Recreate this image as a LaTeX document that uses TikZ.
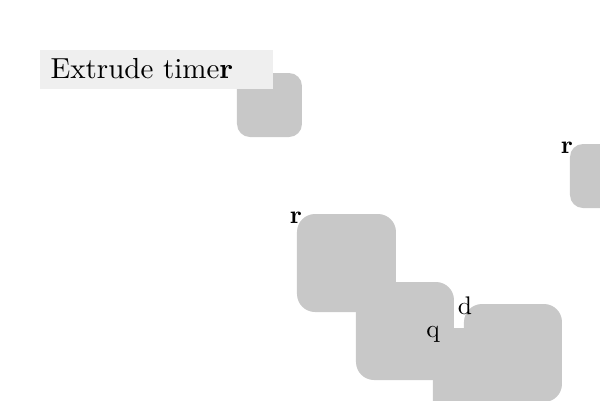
\documentclass[tikz,border=0pt]{standalone}
\usepackage{tikz}
\definecolor{blobgray}{HTML}{C8C8C8}
\definecolor{titlegray}{HTML}{EFEFEF}

\begin{document}
\begin{tikzpicture}[x=0.02cm, y=-0.02cm,
    blob/.style={fill=blobgray, rounded corners=#1},
    blob/.default=3.6mm,
    lbl/.style={font=\fontsize{10}{12}\selectfont, scale=1.45, transform shape, anchor=base, inner sep=0pt}]
    \useasboundingbox (0,0) rectangle (600,400);
    \clip (0,0) rectangle (600,400);
    % the small blobs
    \fill[blob=2.6mm] (237,73) rectangle (302,137);
    \fill[blob=2.6mm] (570,144) rectangle (634,208);
    % the title
    \fill[titlegray] (40,50) rectangle (273,89);
    \node[anchor=base west, inner sep=0pt, font=\fontsize{10}{12}\selectfont, scale=1.65, transform shape] (title) at (50,78) {Extrude time\textbf{r}};
    % the big blobs
    \fill[blob] (297,214) rectangle (396,312);
    \fill[blob] (356,282) rectangle (454,380);
    \fill[blob] (433,328) rectangle (531,426);
    \fill[blob] (464,304) rectangle (562,402);
    % labels
    \node[lbl] (r1) at (296,223) {\textbf{r}};
    \node[lbl] (r2) at (567,153) {\textbf{r}};
    \node[lbl] (d) at (465,314) {d};
    \node[lbl] (q) at (433,337) {q};
\end{tikzpicture}
\end{document}
